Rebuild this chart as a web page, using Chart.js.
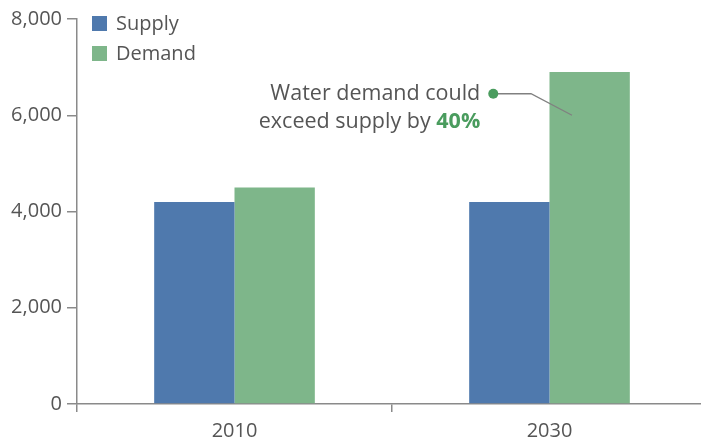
<!DOCTYPE html>
<html>
<head>
<meta charset="utf-8">
<script src="https://cdn.jsdelivr.net/npm/chart.js@4/dist/chart.umd.min.js"></script>
<style>
  html, body { margin: 0; padding: 0; background: #fff; overflow: hidden; }
  #wrap { width: 701px; height: 442px; position: relative; overflow: hidden; }
  #c { display: block; }
</style>
</head>
<body>
<div id="wrap"><canvas id="c" width="707" height="442"></canvas></div>
<script>
const categories = ['2010', '2030'];
const supplyValues = [4200, 4200];
const demandValues = [4500, 6900];
const seriesNames = ['Supply', 'Demand'];
const yTicks = [0, 2000, 4000, 6000, 8000];
const calloutLines = ['Water demand could', 'exceed supply by '];
const calloutHighlight = '40%';
const calloutValue = 6000; // level on the 2030 demand bar the leader line points to

const BLUE = '#4f79ad';
const GREEN = '#7eb68a';
const TEXT = '#555555';
const AXIS = '#8a8a8a';
const HIGHLIGHT = '#4a9c5e';
const FONT = '"Open Sans", Lato, sans-serif';

// Vertical legend in the top-left corner of the plot
const legendPlugin = {
  id: 'cornerLegend',
  afterDraw(chart) {
    const ctx = chart.ctx;
    const area = chart.chartArea;
    ctx.save();
    ctx.font = '20px ' + FONT;
    ctx.textBaseline = 'middle';
    chart.data.datasets.forEach((ds, i) => {
      const x = area.left + 15;
      const y = area.top + 4.5 + i * 30;
      ctx.fillStyle = ds.backgroundColor;
      ctx.fillRect(x, y - 7.5, 15, 15);
      ctx.fillStyle = TEXT;
      ctx.fillText(ds.label, x + 24, y + 1);
    });
    ctx.restore();
  }
};

// Callout text with a leader line into the 2030 demand bar
const calloutPlugin = {
  id: 'callout',
  afterDraw(chart) {
    const ctx = chart.ctx;
    const bar = chart.getDatasetMeta(1).data[1];
    const yScale = chart.scales.y;
    const endX = bar.x - bar.width * 0.22;
    const endY = yScale.getPixelForValue(calloutValue);
    const dotX = bar.x - bar.width * 1.2;
    const dotY = endY - 21.5;
    const elbowX = bar.x - bar.width * 0.73;

    ctx.save();
    ctx.strokeStyle = '#808080';
    ctx.lineWidth = 1.3;
    ctx.beginPath();
    ctx.moveTo(dotX, dotY);
    ctx.lineTo(elbowX, dotY);
    ctx.lineTo(endX, endY);
    ctx.stroke();

    ctx.fillStyle = HIGHLIGHT;
    ctx.beginPath();
    ctx.arc(dotX, dotY, 5, 0, Math.PI * 2);
    ctx.fill();

    const rightX = dotX - 13;
    ctx.font = '21.5px ' + FONT;
    ctx.textBaseline = 'middle';
    ctx.textAlign = 'right';
    ctx.fillStyle = TEXT;
    ctx.fillText(calloutLines[0], rightX, dotY);

    ctx.font = 'bold 21.5px ' + FONT;
    const hiW = ctx.measureText(calloutHighlight).width;
    ctx.fillStyle = HIGHLIGHT;
    ctx.fillText(calloutHighlight, rightX, dotY + 28);
    ctx.font = '21.5px ' + FONT;
    ctx.fillStyle = TEXT;
    ctx.fillText(calloutLines[1], rightX - hiW, dotY + 28);
    ctx.restore();
  }
};

new Chart(document.getElementById('c'), {
  type: 'bar',
  data: {
    labels: categories,
    datasets: [
      { label: seriesNames[0], data: supplyValues, backgroundColor: BLUE },
      { label: seriesNames[1], data: demandValues, backgroundColor: GREEN }
    ]
  },
  options: {
    responsive: false,
    animation: false,
    devicePixelRatio: 1,
    layout: { padding: { top: 19, right: 0, left: 0, bottom: 0 } },
    categoryPercentage: 0.51,
    barPercentage: 1,
    plugins: { legend: { display: false }, tooltip: { enabled: false } },
    scales: {
      x: {
        grid: { offset: true, drawOnChartArea: false, tickLength: 8, color: AXIS, lineWidth: 1.5 },
        border: { color: AXIS, width: 1.5 },
        ticks: { color: TEXT, font: { family: FONT, size: 20 }, padding: 7 },
        afterFit(s) { s.height = 38; }
      },
      y: {
        min: 0, max: 8000,
        afterBuildTicks(s) { s.ticks = yTicks.map(v => ({ value: v })); },
        grid: { drawOnChartArea: false, tickLength: 10, color: AXIS, lineWidth: 1.5 },
        border: { color: AXIS, width: 1.5 },
        ticks: {
          color: TEXT, font: { family: FONT, size: 20 }, padding: 5,
          callback: v => v.toLocaleString('en-US')
        },
        afterFit(s) { s.width = 77; }
      }
    }
  },
  plugins: [legendPlugin, calloutPlugin]
});
</script>
</body>
</html>
